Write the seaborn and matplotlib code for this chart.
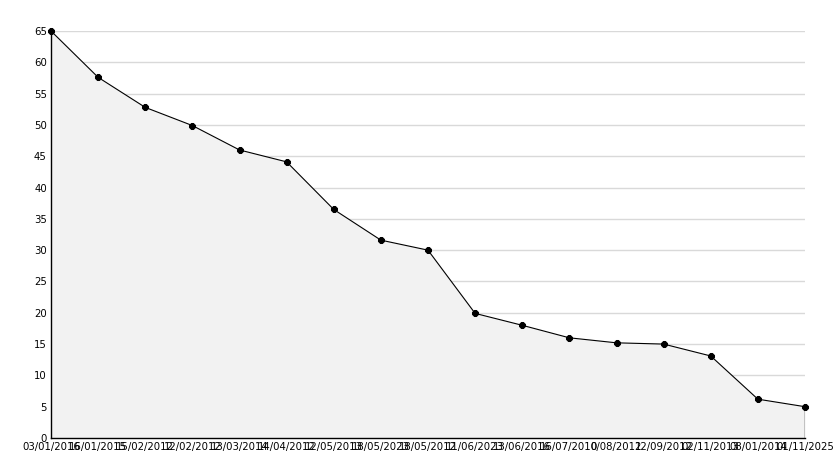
import matplotlib
matplotlib.use("Agg")
import matplotlib.pyplot as plt
import seaborn as sns
import pandas as pd
import numpy as np
from matplotlib.ticker import MultipleLocator

dates = ["03/01/2016", "16/01/2015", "15/02/2012", "12/02/2012", "13/03/2014",
         "14/04/2012", "12/05/2013", "18/05/2023", "18/05/2012", "11/06/2023",
         "13/06/2016", "16/07/2010", "0/08/2012", "12/09/2012", "02/11/2013",
         "08/01/2014", "01/11/2025"]
values = [65, 57.6, 52.8, 49.9, 46.0, 44.1, 36.5, 31.6, 30.0, 19.9,
          18.0, 16.0, 15.2, 15.0, 13.1, 6.2, 5.0]

df = pd.DataFrame({"pos": np.arange(len(dates)), "value": values})

sns.set_style("white")
plt.rcParams["font.family"] = ["DejaVu Sans"]

fig = plt.figure(figsize=(8.34, 4.68), dpi=100)
ax = fig.add_axes([51/834, 30/468, (805-51)/834, (438-31)/468])

ax.fill_between(df["pos"], df["value"], 0, color="#f2f2f2", zorder=1, linewidth=0)
ax.vlines(df["pos"].iloc[-1], 0, df["value"].iloc[-1], color="black", linewidth=1, zorder=2)
sns.lineplot(data=df, x="pos", y="value", ax=ax, color="black", linewidth=0.8,
             marker="8", markersize=4.5, markeredgecolor="black", zorder=3,
             clip_on=False)

ax.set_xlim(0, len(dates) - 1)
ax.set_ylim(0, 65)
ax.yaxis.set_major_locator(MultipleLocator(5))
ax.yaxis.set_minor_locator(MultipleLocator(1))
ax.set_xticks(df["pos"])
ax.set_xticklabels(dates)
ax.grid(axis="y", which="major", color="#d9d9d9", linewidth=1, zorder=0)
ax.set_axisbelow(True)

for s in ["top", "right"]:
    ax.spines[s].set_visible(False)
for s in ["left", "bottom"]:
    ax.spines[s].set_color("black")
    ax.spines[s].set_linewidth(1)

ax.tick_params(axis="both", which="major", direction="in", length=5, width=1,
               color="black", labelsize=7.3, labelcolor="black", pad=3)
ax.tick_params(axis="y", which="minor", direction="in", length=3, width=1, color="black")
ax.set_xlabel("")
ax.set_ylabel("")

fig.savefig("out.png", dpi=100)
